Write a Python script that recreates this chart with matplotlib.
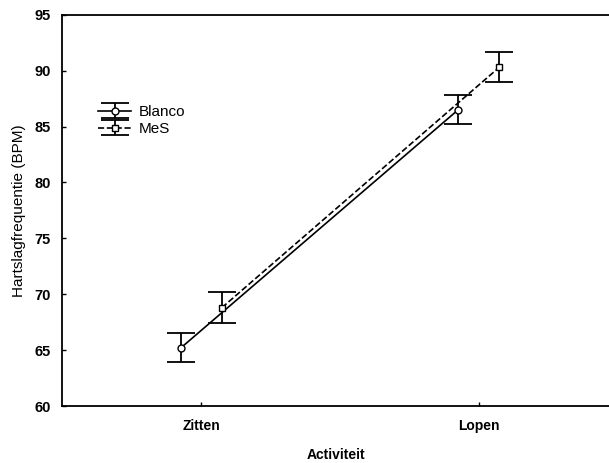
import matplotlib.pyplot as plt
import numpy as np

plt.rcParams['font.family'] = ['Liberation Sans', 'DejaVu Sans']

categories = ['Zitten', 'Lopen']
blanco_mean = [65.2, 86.5]
blanco_err = [1.3, 1.3]
mes_mean = [68.8, 90.3]
mes_err = [1.4, 1.35]

x = np.arange(len(categories))
offset = 0.074

fig = plt.figure(figsize=(6.09, 4.63), dpi=100)
ax = fig.add_axes([0.102, 0.123, 0.898, 0.845])

ax.errorbar(x - offset, blanco_mean, yerr=blanco_err, fmt='-o', color='black',
            mfc='white', mec='black', ms=5, lw=1.2, capsize=10, capthick=1.3,
            elinewidth=1.3, label='Blanco')
ax.errorbar(x + offset, mes_mean, yerr=mes_err, fmt='--s', color='black',
            mfc='white', mec='black', ms=5, lw=1.2, capsize=10, capthick=1.3,
            elinewidth=1.3, label='MeS')

ax.set_xlim(-0.502, 1.47)
ax.set_ylim(60, 95)
ax.set_yticks(range(60, 96, 5))
ax.set_xticks(x)
ax.set_xticklabels(categories, fontsize=10, fontweight='bold')
for lab in ax.get_yticklabels():
    lab.set_fontsize(10.5)
    lab.set_fontweight('bold')
ax.tick_params(direction='in', length=3, width=1)
ax.tick_params(axis='y', pad=8)
ax.tick_params(axis='x', pad=9)
ax.spines['right'].set_visible(False)
for s in ['left', 'bottom', 'top']:
    ax.spines[s].set_linewidth(1.3)

ax.set_xlabel('Activiteit', fontsize=10, fontweight='bold', labelpad=11)
ax.set_ylabel('Hartslagfrequentie (BPM)', fontsize=11, labelpad=6)

ax.legend(loc='upper left', bbox_to_anchor=(0.04, 0.805), frameon=False,
          fontsize=11, handlelength=2.2, handletextpad=0.5, labelspacing=0.2)

fig.savefig('out.png', dpi=100)
